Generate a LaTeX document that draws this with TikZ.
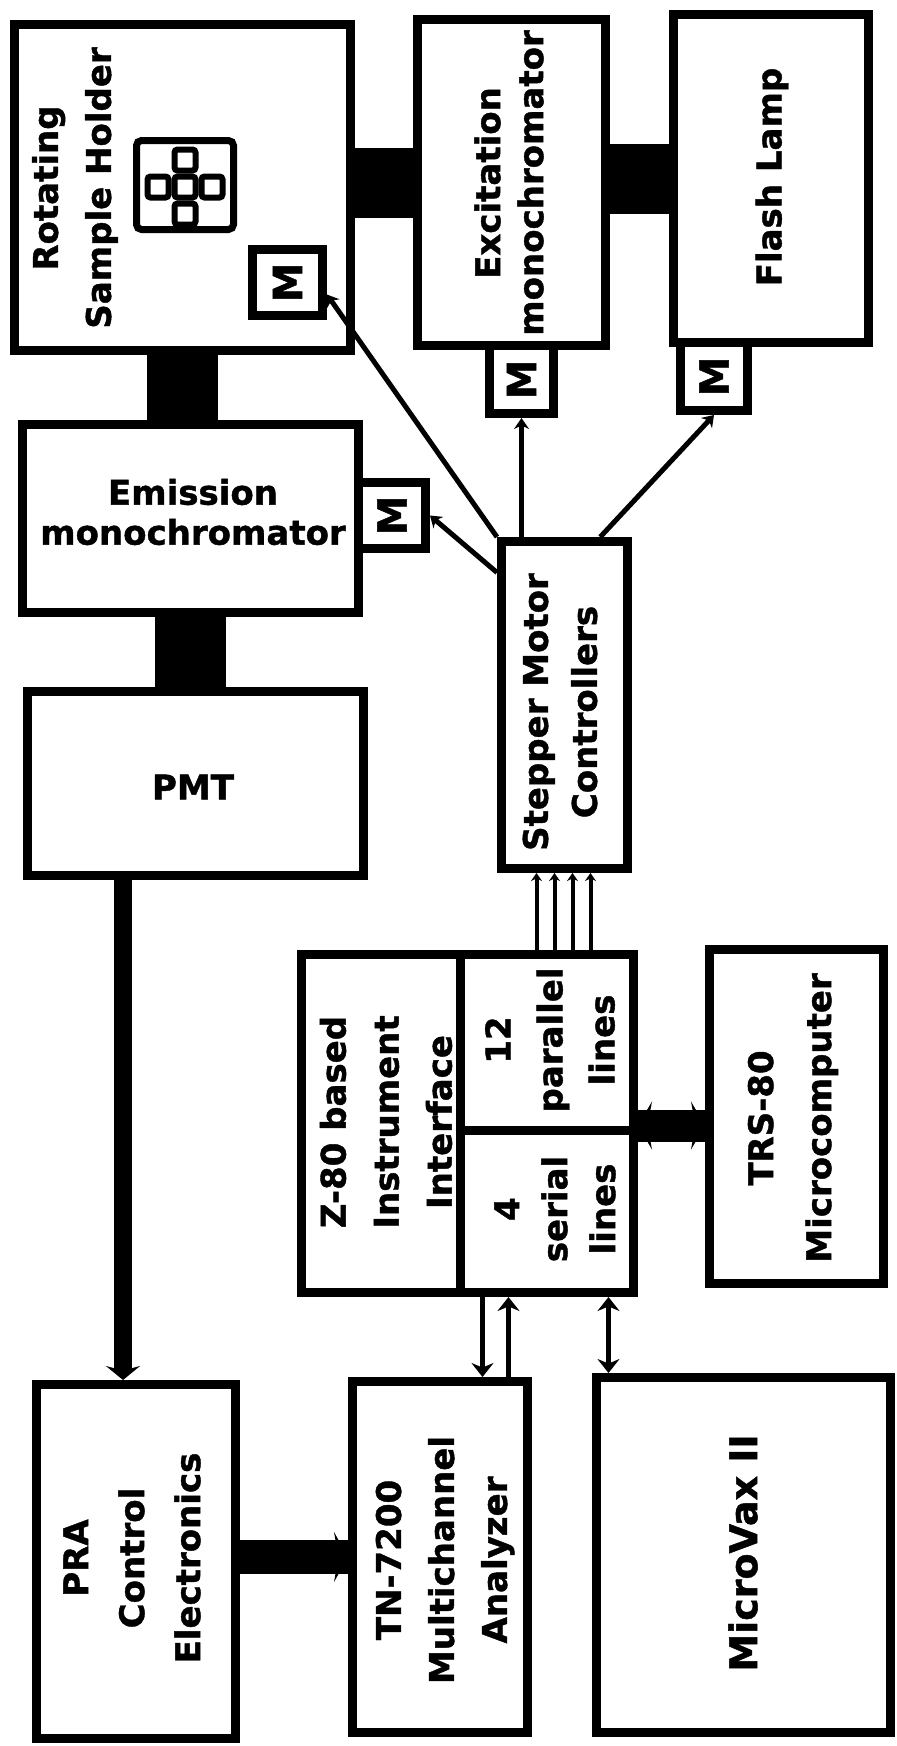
\documentclass[tikz,border=0pt]{standalone}
\usepackage{fontspec}
\usepackage{graphicx}
\setmainfont{DejaVu Sans}[BoldFeatures={FakeBold=1.2}]
\usetikzlibrary{arrows.meta,calc}
\newcommand{\lblfont}[1]{\fontsize{34}{#1}\selectfont\bfseries}
\newcommand{\mfont}{\fontsize{40}{40}\selectfont\bfseries}
\tikzset{bushead/.tip={Stealth[length=14pt,width=22pt]}}
\begin{document}
\begin{tikzpicture}[x=1pt,y=-1pt,
  box/.style={draw, line width=9pt, inner sep=0pt},
  mbox/.style={draw, line width=9pt, inner sep=0pt, font=\mfont},
  cell/.style={draw, line width=6pt, inner sep=0pt, minimum size=21pt, rounded corners=3pt},
  lbl/.style={align=center, inner sep=0pt},
  bar/.style={line width=71pt},
  sig/.style={line width=5pt, -{Stealth[length=11pt,width=15pt]}},
  sigfour/.style={line width=4pt, -{Stealth[length=8pt,width=11pt]}},
  bus/.style={line width=5pt}
]
\useasboundingbox (0,0) rectangle (897,1746);
\fill[white] (0,0) rectangle (897,1746);

% ---- main boxes ----
\node[box, minimum width=336pt, minimum height=326pt] (SH) at (182.5,187.5) {};
\node[box, minimum width=188pt, minimum height=326pt] (EX) at (511.5,182.5) {};
\node[box, minimum width=195pt, minimum height=328pt] (FL) at (771,178.5) {};
\node[box, minimum width=336pt, minimum height=188pt] (EM) at (190.5,518.5) {};
\node[box, minimum width=336pt, minimum height=184pt] (PMT) at (195.5,783.5) {};
\node[box, minimum width=126pt, minimum height=327pt] (SMC) at (564.5,705) {};
\node[box, minimum width=158.5pt, minimum height=338pt] (IFa) at (380.75,1123.5) {};
\node[box, minimum width=173.5pt, minimum height=175.5pt] (IFb) at (546.75,1042.25) {};
\node[box, minimum width=173.5pt, minimum height=162.5pt] (IFc) at (546.75,1211.25) {};
\node[box, minimum width=174pt, minimum height=334pt] (TRS) at (796.5,1116.5) {};
\node[box, minimum width=199pt, minimum height=354pt] (PRA) at (136,1561.5) {};
\node[box, minimum width=175pt, minimum height=351pt] (TN) at (440,1557) {};
\node[box, minimum width=294pt, minimum height=355pt] (MV) at (743.5,1555) {};

% ---- motor boxes ----
\node[mbox, minimum width=70pt, minimum height=66pt] (M1) at (287.5,282.5) {\rotatebox{90}{M}};
\node[mbox, minimum width=67pt, minimum height=66pt] (M2) at (392,515.5) {\rotatebox{90}{M}};
\node[mbox, minimum width=64pt, minimum height=68pt] (M3) at (521.5,379.5) {\rotatebox{90}{M}};
\node[mbox, minimum width=67pt, minimum height=68pt] (M4) at (714,376.5) {\rotatebox{90}{M}};

% ---- sample tray icon ----
\node[draw, line width=7pt, rounded corners=5pt, inner sep=0pt, minimum width=97pt, minimum height=89pt] (tray) at (185,185) {};
\node[cell] (c0) at (185,187) {};
\node[cell] (c1) at (185,160) {};
\node[cell] (c2) at (158,187) {};
\node[cell] (c3) at (212,187) {};
\node[cell] (c4) at (185,214) {};

% ---- optical bars ----
\draw[bar] (SH.south) -- (SH.south |- EM.north);
\draw[bar] (EM.south) -- (EM.south |- PMT.north);
\draw[bar, line width=70pt] (EX.west -| SH.east) -- (EX.west);
\draw[bar, line width=70pt] (FL.west -| EX.east) -- (FL.west);

% ---- stepper motor connections ----
\draw[sig] (SMC.north west) -- (M1.-17);
\draw[sig] (SMC.117) -- (M2.east);
\draw[sig] (M3.south |- SMC.north) -- (M3.south);
\draw[sig] (SMC.78) -- (M4.south);

\foreach \dx [count=\i] in {-28,-10,8,26} {
  \coordinate (q\i) at ($(SMC.south)+(\dx,0)$);
  \draw[sigfour] (q\i |- IFb.north) -- (q\i);
}

% ---- interface <-> TRS-80 ----
\coordinate (ti) at (IFc.north east);
\draw[line width=32pt] (ti) -- (ti -| TRS.west);
\draw[line width=1pt, {Stealth[length=14pt,width=48pt]}-{Stealth[length=14pt,width=48pt]}] (ti) -- (ti -| TRS.west);

% ---- PMT -> PRA ----
\coordinate (pp) at ($(PMT.south west)+(100,0)$);
\draw[line width=18pt, -{Stealth[length=14pt,width=34pt]}] (pp) -- (pp |- PRA.north);

% ---- PRA -> TN ----
\draw[line width=34pt] (TN.west -| PRA.east) -- (TN.west);
\draw[line width=1pt, -{Stealth[length=14pt,width=50pt]}] (TN.west -| PRA.east) -- (TN.west);

% ---- serial lines ----
\coordinate (a1) at ($(IFc.south west)+(27,0)$);
\coordinate (a2) at ($(IFc.south west)+(53,0)$);
\coordinate (a3) at ($(IFc.south west)+(153,0)$);
\draw[bus, -bushead] (a1) -- (a1 |- TN.north);
\draw[bus, bushead-] (a2) -- (a2 |- TN.north);
\draw[bus, bushead-bushead] (a3) -- (a3 |- MV.north);

% ---- labels ----
\node[lbl, rotate=90, font=\lblfont{53}] (tSH) at (75,188) {Rotating\\Sample Holder};
\node[lbl, rotate=90, font=\lblfont{43}] (tEX) at (509,183) {Excitation\\monochromator};
\node[lbl, rotate=90, font=\lblfont{44}] (tFL) at (772,177) {Flash Lamp};
\node[lbl, font=\lblfont{40}] (tEM) at (193,512) {Emission\\monochromator};
\node[lbl, font=\lblfont{40}] (tPMT) at (193,787) {PMT};
\node[lbl, rotate=90, font=\lblfont{49}] (tSMC) at (560,712) {Stepper Motor\\Controllers};
\node[lbl, rotate=90, font=\lblfont{53}] (tIFa) at (386,1122) {Z-80 based\\Instrument\\Interface};
\node[lbl, rotate=90, font=\lblfont{52}] (tIFb) at (550,1040) {12\\parallel\\lines};
\node[lbl, rotate=90, font=\lblfont{48}] (tIFc) at (555,1209) {4\\serial\\lines};
\node[lbl, rotate=90, font=\lblfont{58}] (tTRS) at (793,1118) {TRS-80\\Microcomputer};
\node[lbl, rotate=90, font=\lblfont{56}] (tPRA) at (132,1558) {PRA\\Control\\Electronics};
\node[lbl, rotate=90, font=\lblfont{53}] (tTN) at (445,1560) {TN-7200\\Multichannel\\Analyzer};
\node[lbl, rotate=90, font={\fontsize{38}{44}\selectfont\bfseries}] (tMV) at (743,1553) {MicroVax II};
\end{tikzpicture}
\end{document}
